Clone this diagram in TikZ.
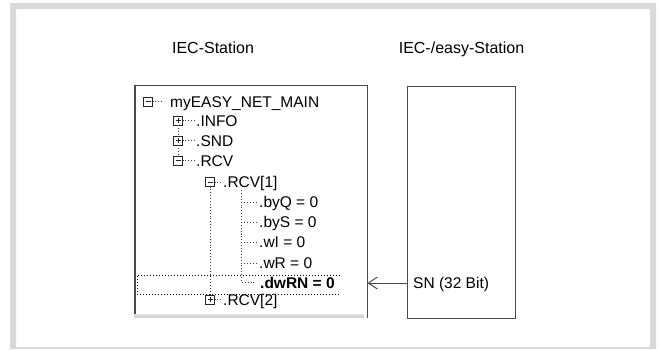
\documentclass[tikz,border=0pt]{standalone}
\usepackage{fontspec}
\setmainfont{Liberation Sans}
\usetikzlibrary{arrows.meta}
\definecolor{framegray}{HTML}{D9D9D9}
\definecolor{boxline}{HTML}{4A4A4A}
\definecolor{treegray}{HTML}{404040}
\definecolor{barfill}{HTML}{D6D4CE}
\begin{document}
\begin{tikzpicture}[x=1pt,y=-1pt,
  lbl/.style={anchor=base west, inner sep=0pt, font=\fontsize{15.5}{18}\selectfont},
  title/.style={anchor=base, inner sep=0pt, font=\fontsize{16}{19}\selectfont},
  treeline/.style={draw=treegray, dotted, line width=0.9pt},
  selline/.style={draw=black, dotted, line width=1pt},
  iconbase/.style={draw=black!85, fill=white, line width=0.9pt, minimum size=9pt, inner sep=0pt, outer sep=0pt},
  minusbox/.style={iconbase, path picture={
      \draw[line width=1pt] ([xshift=2pt]path picture bounding box.west) -- ([xshift=-2pt]path picture bounding box.east);}},
  plusbox/.style={iconbase, path picture={
      \draw[line width=1pt] ([xshift=2pt]path picture bounding box.west) -- ([xshift=-2pt]path picture bounding box.east);
      \draw[line width=1pt] ([yshift=-2pt]path picture bounding box.north) -- ([yshift=2pt]path picture bounding box.south);}},
  winbox/.style={draw=boxline, line width=1pt},
]
\useasboundingbox (0,0) rectangle (660,349);
% outer frame
\fill[framegray, even odd rule] (10,3) rectangle (656,349) (16,9) rectangle (650,347);

% titles
\node[title] (t1) at (213,53) {IEC-Station};
\node[title] (t2) at (461.5,53) {IEC-/easy-Station};

% left window
\fill[barfill] (134,314) rectangle (364,318);
\draw[white!92!black, line width=0.8pt] (134,314.4) -- (364,314.4);
\draw[winbox] (367,318) -- (367,85) -- (134,85);
\draw[boxline, line width=2pt] (135,85) -- (135,314);

% right box
\draw[winbox] (407,86) rectangle (515,318);

% tree rows
\node[minusbox] (i0) at (148,101.5) {};
\node[lbl] (r0) at (170,107) {myEASY\_NET\_MAIN};
\node[plusbox] (i1) at (178,120.5) {};
\node[lbl] (r1) at (196,126) {.INFO};
\node[plusbox] (i2) at (178,140.5) {};
\node[lbl] (r2) at (196,146) {.SND};
\node[minusbox] (i3) at (178,160.5) {};
\node[lbl] (r3) at (196,166) {.RCV};
\node[minusbox] (i4) at (210,182) {};
\node[lbl] (r4) at (223,187.5) {.RCV[1]};
\node[lbl] (l1) at (259,207) {.byQ = 0};
\node[lbl] (l2) at (259,227) {.byS = 0};
\node[lbl] (l3) at (259,247) {.wI = 0};
\node[lbl] (l4) at (259,268) {.wR = 0};
\node[lbl, font=\fontsize{15.5}{18}\selectfont\bfseries] (l5) at (260,288) {.dwRN = 0};
\node[plusbox] (i5) at (210,299.5) {};
\node[lbl] (r5) at (223,305) {.RCV[2]};

% tree connectors
\draw[treeline] (i0.east) -- ([xshift=-7pt]i0.east -| r0.west);
\draw[treeline] (i1.east) -- ([xshift=-1pt]i1.east -| r1.west);
\draw[treeline] (i2.east) -- ([xshift=-1pt]i2.east -| r2.west);
\draw[treeline] (i3.east) -- ([xshift=-1pt]i3.east -| r3.west);
\draw[treeline] (i4.east) -- ([xshift=-1pt]i4.east -| r4.west);
\draw[treeline] (i5.east) -- ([xshift=-1pt]i5.east -| r5.west);
\draw[treeline] (i1.south) -- (i2.north);
\draw[treeline] (i2.south) -- (i3.north);
\draw[treeline] (i4.south) -- (i5.north);
\coordinate (lv) at (241,190);
\foreach \l in {l1,l2,l3,l4} {
  \draw[treeline] ([yshift=5pt]lv |- \l.base) -- ([xshift=-1pt,yshift=5pt]\l.base west);
}
\draw[treeline] (lv) -- ([yshift=6pt]lv |- l5.base) -- ([xshift=-4pt,yshift=6pt]l5.base west);

% selection
\coordinate (s1) at (340,275);
\coordinate (s2) at (137,275);
\coordinate (s3) at (137,294);
\coordinate (s4) at (340,294);
\draw[selline] (s1) -- (s2) -- (s3) -- (s4);

% SN arrow
\node[lbl, anchor=base west] (sn) at (413,288) {SN (32 Bit)};
\coordinate (ae) at (407,283);
\coordinate (at) at (367.5,283);
\draw[boxline, line width=1pt, -{Straight Barb[length=9pt, width=12pt, line width=1pt]}] (ae) -- (at);
\end{tikzpicture}
\end{document}
